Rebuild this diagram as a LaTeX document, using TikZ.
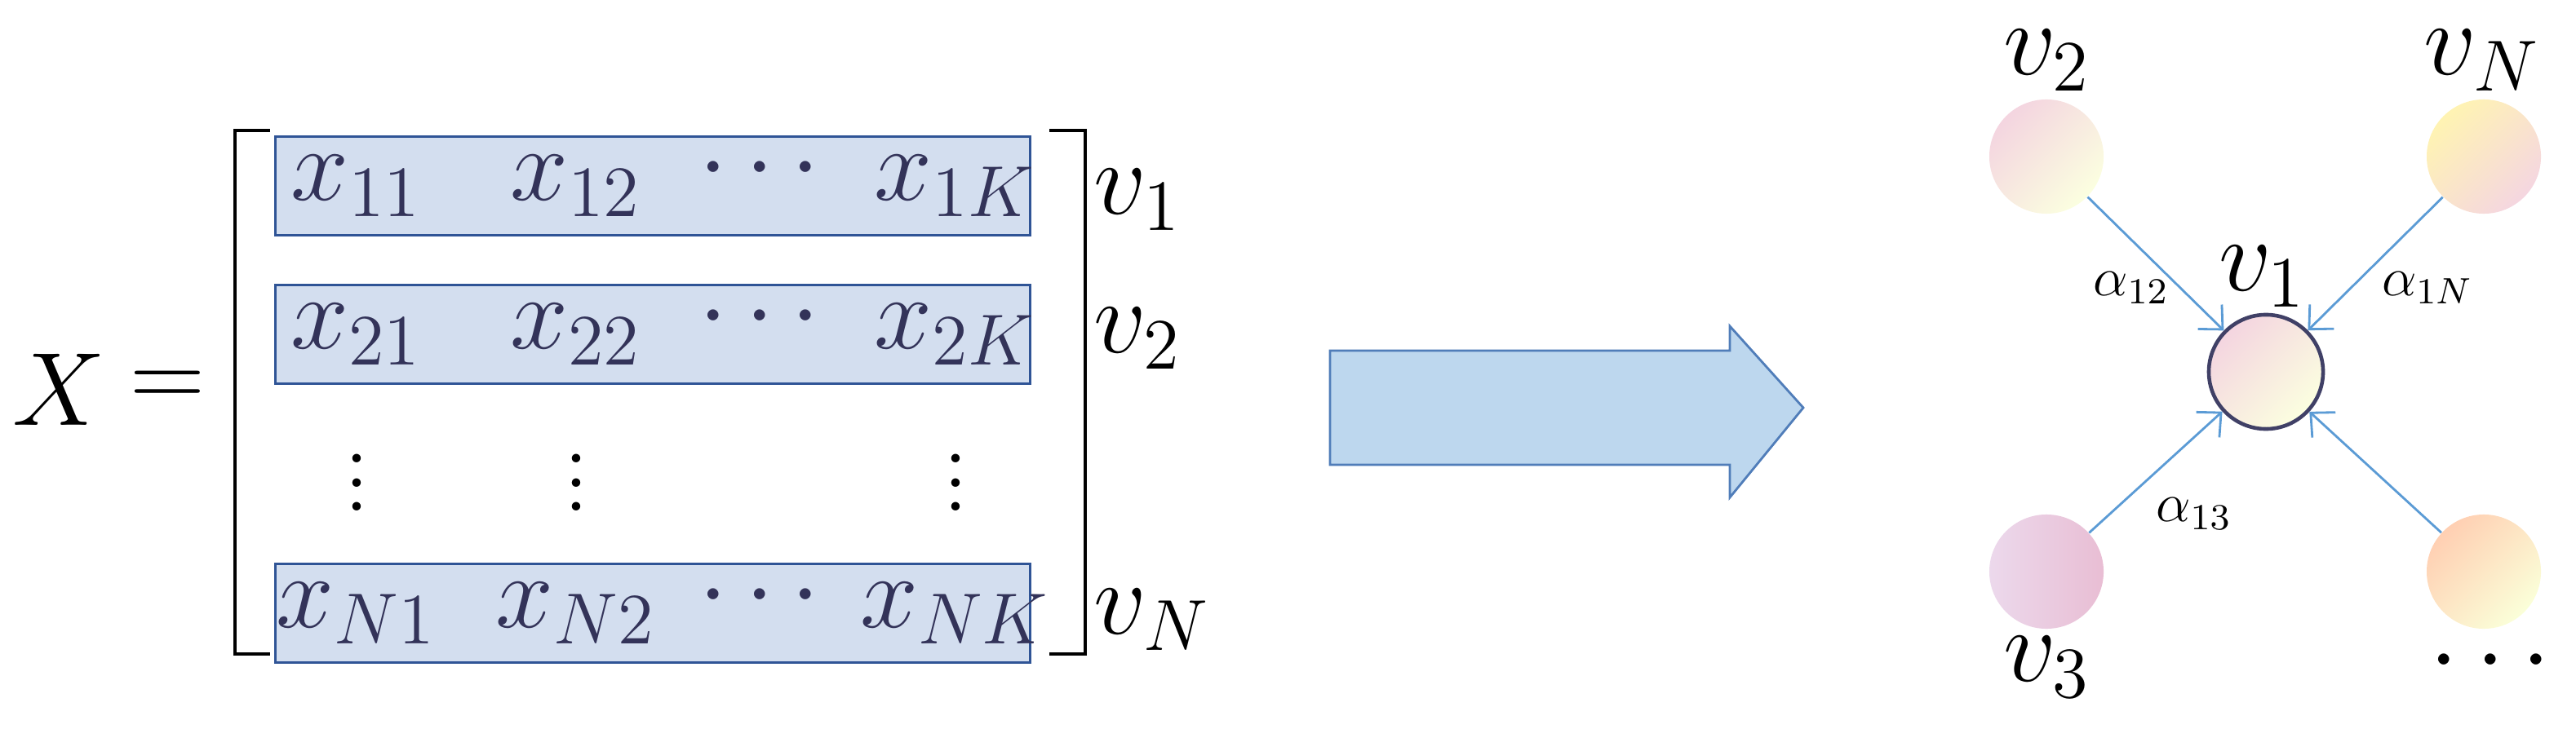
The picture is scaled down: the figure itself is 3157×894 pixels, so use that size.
\documentclass[tikz,border=0pt]{standalone}
\usetikzlibrary{arrows.meta}
\newcommand\BG[1]{\scalebox{2.1}{$#1$}}
\newcommand\SM[1]{\scalebox{1.6}{$#1$}}
\begin{document}
\begin{tikzpicture}[x=0.01cm,y=-0.01cm,
  big/.style={font=\LARGE,inner sep=0pt},
  ent/.style={font=\LARGE,inner sep=0pt,text=black!75!blue!60!gray},
  sm/.style={font=\large,inner sep=0pt},
  rowbox/.style={draw=rowdraw,line width=0.9pt,fill=rowfill},
  brk/.style={line width=1.4pt,black},
  nd/.style={circle,minimum size=1.4cm,inner sep=0pt,draw=none},
  edge/.style={draw=edgeblue,line width=0.8pt,-{Straight Barb[length=2.2mm,width=4.2mm]}}]
\definecolor{rowfill}{RGB}{211,222,239}
\definecolor{rowdraw}{RGB}{47,84,150}
\definecolor{edgeblue}{RGB}{91,155,213}
\definecolor{arrfill}{RGB}{189,215,238}
\definecolor{arrdraw}{RGB}{80,125,185}
\useasboundingbox (0,0) rectangle (3157,894);
% matrix
\node[big] (X) at (72,478) {\BG{X}};
\node[big] (eq) at (205,478) {\BG{=}};
\draw[brk] (331,160) -- (288,160) -- (288,802) -- (331,802);
\draw[brk] (1286,160) -- (1330,160) -- (1330,802) -- (1286,802);
\node[rowbox,minimum width=9.24cm,minimum height=1.21cm] (r1) at (800,228) {};
\node[rowbox,minimum width=9.24cm,minimum height=1.21cm] (r2) at (800,410) {};
\node[rowbox,minimum width=9.24cm,minimum height=1.21cm] (r3) at (800,752) {};
\foreach \y/\a in {228/1,410/2}{
  \node[ent] (e\a1) at (437,\y) {\BG{x_{\a1}}};
  \node[ent] (e\a2) at (706,\y) {\BG{x_{\a2}}};
  \node[ent] (e\a3) at (931,\y-20) {\BG{\cdots}};
  \node[ent] (e\a4) at (1171,\y) {\BG{x_{\a K}}};
}
\node[ent] (eN1) at (437,752) {\BG{x_{N1}}};
\node[ent] (eN2) at (706,752) {\BG{x_{N2}}};
\node[ent] (eN3) at (931,732) {\BG{\cdots}};
\node[ent] (eN4) at (1171,752) {\BG{x_{NK}}};
\node[big] (d1) at (437,570) {\BG{\vdots}};
\node[big] (d2) at (706,570) {\BG{\vdots}};
\node[big] (d4) at (1171,570) {\BG{\vdots}};
\node[big,anchor=west] (lv1) at (1340,245) {\BG{v_1}};
\node[big,anchor=west] (lv2) at (1340,415) {\BG{v_2}};
\node[big,anchor=west] (lvN) at (1340,760) {\BG{v_N}};
% big arrow
\draw[draw=arrdraw,fill=arrfill,line width=0.8pt] (1630,430) -- (2120,430) -- (2120,400) -- (2210,500) -- (2120,610) -- (2120,570) -- (1630,570) -- cycle;
\coordinate (bigarr) at (1920,500);
% graph
\node[nd,draw=black!70!blue!50!gray,line width=1.3pt,top color=violet!22!pink!40,bottom color=green!12!yellow!12,shading angle=45] (v1) at (2777,456) {};
\node[nd,top color=violet!22!pink!40,bottom color=green!12!yellow!12,shading angle=45] (v2) at (2508,192) {};
\node[nd,top color=orange!30!yellow!30,bottom color=violet!20!pink!40,shading angle=45] (vN) at (3044,192) {};
\node[nd,left color=violet!15!white,right color=violet!35!pink!50] (v3) at (2508,701) {};
\node[nd,top color=red!25!orange!30,bottom color=green!12!yellow!15,shading angle=45] (vD) at (3044,701) {};
\draw[edge] (v2) -- (v1);
\draw[edge] (vN) -- (v1);
\draw[edge] (v3) -- (v1);
\draw[edge] (vD) -- (v1);
\node[big] (t1) at (2773,339) {\BG{v_1}};
\node[big] (t2) at (2509,74) {\BG{v_2}};
\node[big] (tN) at (3042,74) {\BG{v_N}};
\node[big] (t3) at (2509,818) {\BG{v_3}};
\node[big] (tD) at (3052,812) {\BG{\cdots}};
\node[sm] (a12) at (2612,353) {\SM{\alpha_{12}}};
\node[sm] (a1N) at (2975,353) {\SM{\alpha_{1N}}};
\node[sm] (a13) at (2689,630) {\SM{\alpha_{13}}};
\end{tikzpicture}
\end{document}
